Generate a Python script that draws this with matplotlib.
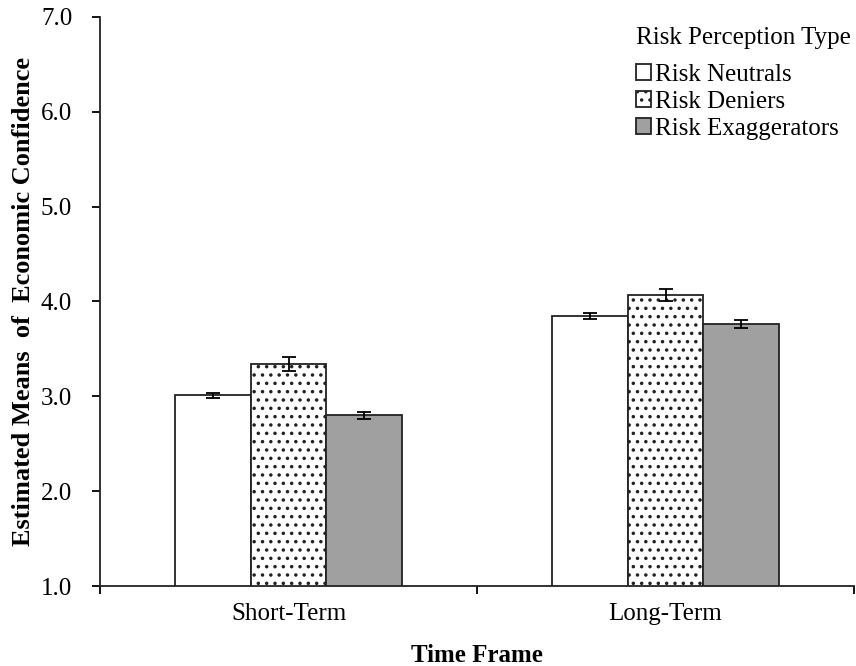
import numpy as np
import matplotlib
matplotlib.use('Agg')
import matplotlib.pyplot as plt

# Data

frames = ['Short-Term', 'Long-Term']
groups = ['Risk Neutrals', 'Risk Deniers', 'Risk Exaggerators']
means = {'Risk Neutrals': [3.01, 3.85],
         'Risk Deniers': [3.34, 4.07],
         'Risk Exaggerators': [2.80, 3.76]}
errors = {'Risk Neutrals': [0.03, 0.03],
          'Risk Deniers': [0.07, 0.06],
          'Risk Exaggerators': [0.04, 0.04]}

# Styles for each group

faces = {'Risk Neutrals': 'white',
         'Risk Deniers': 'white',
         'Risk Exaggerators': '#a0a0a0'}
hatches = {'Risk Neutrals': None,
           'Risk Deniers': '..',
           'Risk Exaggerators': None}

plt.rcParams['font.family'] = ['Liberation Serif', 'DejaVu Serif']
plt.rcParams['hatch.linewidth'] = 1.3
plt.rcParams['hatch.color'] = 'black'

fig = plt.figure(figsize=(8.56, 6.66), dpi=100)
ax = fig.add_axes([0.1168, 0.1201, 0.881, 0.8544])

x = np.arange(len(frames))
width = 0.2
for i, g in enumerate(groups):
    pos = x + (i - 1) * width
    ax.bar(pos, means[g], width, bottom=0, color=faces[g], hatch=hatches[g],
           edgecolor='#222222', linewidth=1.3, label=g, zorder=2)
    ax.errorbar(pos, means[g], yerr=errors[g], fmt='none', ecolor='black',
                elinewidth=1.3, capsize=5, capthick=1.3, zorder=3)

ax.set_ylim(1.0, 7.0)
ax.set_xlim(-0.5, 1.5)
ax.set_yticks(np.arange(1.0, 7.01, 1.0))
ax.set_yticklabels(['{:.1f}'.format(v) for v in np.arange(1.0, 7.01, 1.0)])

# category labels between boundary ticks
ax.set_xticks([-0.5, 0.5, 1.5])
ax.set_xticklabels([])
ax.set_xticks(x, minor=True)
ax.set_xticklabels(frames, minor=True)
ax.tick_params(axis='x', which='minor', length=0, pad=12, labelsize=18)
ax.tick_params(axis='x', which='major', direction='out', length=6, width=1.3)
ax.tick_params(axis='y', direction='out', length=6, width=1.3, labelsize=18, pad=14)

for side in ['top', 'right']:
    ax.spines[side].set_visible(False)
for side in ['left', 'bottom']:
    ax.spines[side].set_linewidth(1.3)
    ax.spines[side].set_color('#222222')

ax.set_xlabel('Time Frame', fontsize=18, fontweight='bold', labelpad=14)
ax.set_ylabel('Estimated Means  of  Economic Confidence', fontsize=19,
              fontweight='bold', labelpad=4)

# legend title placed on its own, then the entries below it
ax.text(0.711, 0.963, 'Risk Perception Type', transform=ax.transAxes,
        fontsize=18, ha='left', va='center')
leg = ax.legend(loc='upper left', bbox_to_anchor=(0.711, 0.917),
                frameon=False, fontsize=18, borderpad=0, borderaxespad=0,
                handlelength=0.6, handleheight=0.6,
                handletextpad=0.15, labelspacing=0.2)

fig.savefig('out.png', dpi=100)
